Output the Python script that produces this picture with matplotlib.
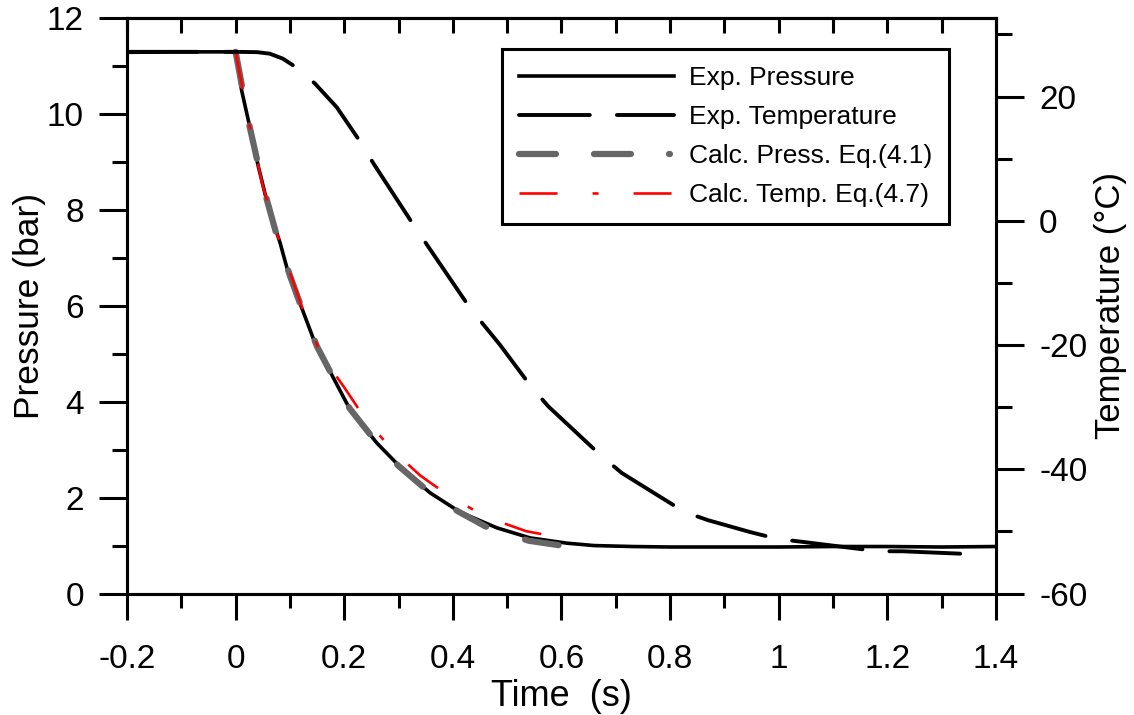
import matplotlib
matplotlib.use('Agg')
import matplotlib.pyplot as plt
from matplotlib.lines import Line2D
from matplotlib.ticker import MultipleLocator
import numpy as np

plt.rcParams['font.family'] = ['Liberation Sans', 'DejaVu Sans']
plt.rcParams['lines.scale_dashes'] = False
plt.rcParams['axes.unicode_minus'] = False

# ---- data ----
t_exp_p = [-0.2, -0.1, -0.01, 0.0, 0.011, 0.026, 0.042, 0.06, 0.082, 0.097, 0.128, 0.146,
           0.179, 0.211, 0.26, 0.303, 0.358, 0.413, 0.481, 0.542, 0.61, 0.66, 0.732, 0.8,
           0.9, 1.0, 1.1, 1.2, 1.3, 1.4]
p_exp = [11.29, 11.30, 11.30, 11.28, 10.5, 9.74, 8.9, 8.07, 7.31, 6.69, 5.77, 5.23,
         4.52, 3.83, 3.14, 2.64, 2.10, 1.70, 1.37, 1.16, 1.05, 1.0, 0.98, 0.97,
         0.97, 0.97, 0.98, 0.98, 0.97, 0.98]

t_exp_T = [-0.2, 0.0, 0.04, 0.063, 0.087, 0.115, 0.146, 0.186, 0.232, 0.254, 0.330, 0.355,
           0.432, 0.487, 0.545, 0.576, 0.674, 0.711, 0.827, 0.870, 0.947, 0.997, 1.045,
           1.183, 1.227, 1.365]
T_exp = [27.2, 27.2, 27.15, 26.9, 26.1, 24.5, 22.1, 18.3, 12.4, 9.2, -1.0, -4.2,
         -14.1, -20.0, -26.8, -29.9, -37.9, -40.6, -46.9, -48.2, -50.1, -51.2, -51.7,
         -53.2, -53.2, -53.7]

t_calc_p = [0.0, 0.025, 0.05, 0.075, 0.1, 0.125, 0.15, 0.18, 0.21, 0.26, 0.3, 0.36,
            0.41, 0.46, 0.5, 0.54, 0.6]
p_calc = [11.3, 9.78, 8.52, 7.5, 6.63, 5.85, 5.15, 4.5, 3.86, 3.14, 2.66, 2.08,
          1.71, 1.40, 1.24, 1.10, 1.0]

t_calc_T = [0.0, 0.025, 0.05, 0.075, 0.1, 0.125, 0.15, 0.175, 0.2, 0.24, 0.29, 0.34,
            0.4, 0.465, 0.535, 0.605]
p_calc_T = [11.3, 9.8, 8.5, 7.55, 6.7, 5.88, 5.18, 4.7, 4.3, 3.62, 2.98, 2.46,
            1.98, 1.58, 1.30, 1.15]

labels = ['Exp. Pressure', 'Exp. Temperature', 'Calc. Press. Eq.(4.1)', 'Calc. Temp. Eq.(4.7)']
xtick_labels = ['-0.2', '0', '0.2', '0.4', '0.6', '0.8', '1', '1.2', '1.4']

# ---- figure ----
fig = plt.figure(figsize=(11.34, 7.15), dpi=100)
ax = fig.add_axes([0.11199, 0.16993, 0.76631, 0.80448])
ax2 = ax.twinx()

gray = '#666666'
lw_sp = 2.2

l1, = ax.plot(t_exp_p, p_exp, color='black', lw=2.6, solid_capstyle='round')
l3, = ax.plot(t_calc_p, p_calc, color=gray, lw=4.5, dashes=(24.5, 29.5),
              dash_capstyle='round')
l4, = ax.plot(t_calc_T, p_calc_T, color='red', lw=1.9, dashes=(27.4, 25.2, 4.3, 25.2),
              dash_capstyle='butt')
l2, = ax2.plot(t_exp_T, T_exp, color='black', lw=2.8, dashes=(51, 19.5),
               dash_capstyle='round')

ax.set_xlim(-0.2, 1.4)
ax.set_ylim(0, 12)
ax2.set_ylim(-60, 32.6)

# x ticks
ax.set_xticks(np.arange(-0.2, 1.41, 0.2))
ax.set_xticklabels(xtick_labels)
ax.xaxis.set_minor_locator(MultipleLocator(0.1))
ax.tick_params(axis='x', which='major', direction='out', length=19, width=lw_sp,
               labelsize=24, pad=17, top=False)
ax.tick_params(axis='x', which='minor', direction='out', length=10, width=lw_sp, top=False)

# y ticks left
ax.set_yticks(np.arange(0, 12.1, 2))
ax.yaxis.set_minor_locator(MultipleLocator(1))
ax.tick_params(axis='y', which='major', direction='out', length=20, width=lw_sp,
               labelsize=24, pad=11, right=False)
ax.tick_params(axis='y', which='minor', direction='out', length=11, width=lw_sp, right=False)

# y ticks right
ax2.set_yticks(np.arange(-60, 21, 20))
ax2.yaxis.set_minor_locator(MultipleLocator(10))
ax2.tick_params(axis='y', which='major', direction='out', length=20, width=lw_sp,
                labelsize=24, pad=11)
ax2.tick_params(axis='y', which='minor', direction='out', length=11.5, width=lw_sp)

# top ticks (inward, every 0.1)
sec = ax.secondary_xaxis('top')
sec.set_xticks(np.arange(-0.2, 1.41, 0.1))
sec.tick_params(axis='x', direction='in', length=11, width=lw_sp, labeltop=False)
sec.spines['top'].set_linewidth(lw_sp)

for a in (ax, ax2):
    for s in a.spines.values():
        s.set_linewidth(lw_sp)

ax.set_xlabel('Time  (s)', fontsize=26, labelpad=3)
ax.set_ylabel('Pressure (bar)', fontsize=25.5, labelpad=1)
ax2.set_ylabel('Temperature (°C)', fontsize=25, labelpad=5)

# legend
h1 = Line2D([], [], color='black', lw=2.6)
h2 = Line2D([], [], color='black', lw=2.8, dashes=(51, 19.5), dash_capstyle='round')
h3 = Line2D([], [], color=gray, lw=4.5, dashes=(26.6, 27.4, 26.6, 27.4, 0.7, 27.4),
            dash_capstyle='round')
h4 = Line2D([], [], color='red', lw=1.9, dashes=(27.4, 25.2, 4.3, 25.2), dash_capstyle='butt')
leg = ax2.legend([h1, h2, h3, h4], labels, loc='upper left',
                 bbox_to_anchor=(0.4315, 0.9466), borderaxespad=0,
                 fontsize=19, handlelength=5.87, handletextpad=0.57,
                 labelspacing=0.57, borderpad=0.65, fancybox=False, framealpha=1,
                 edgecolor='black')
leg.get_frame().set_linewidth(2.2)

fig.savefig('out.png', dpi=100)
